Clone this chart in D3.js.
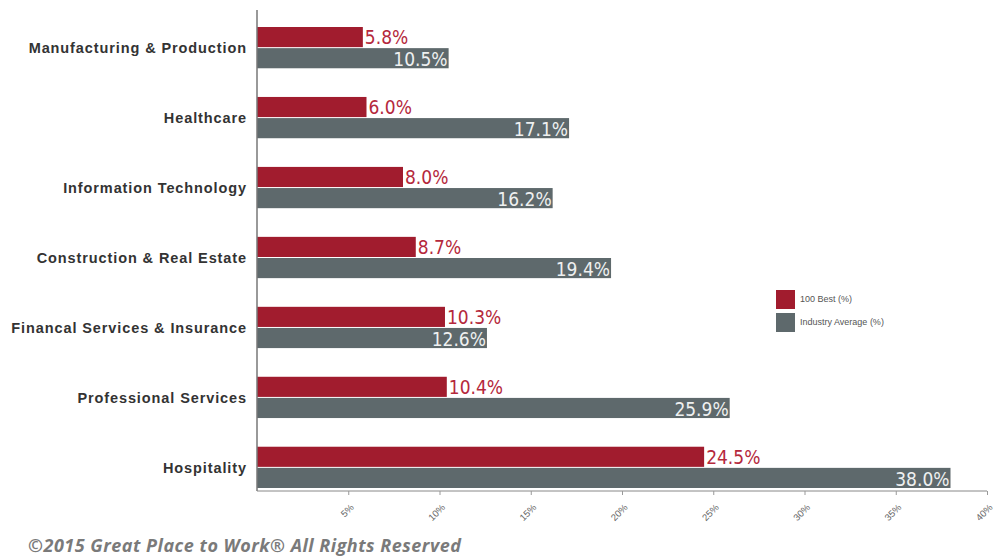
<!DOCTYPE html>
<html lang="en">
<head>
<meta charset="utf-8">
<script src="https://d3js.org/d3.v7.min.js"></script>
<style>
	body { margin: 0; background: #fff; }
	.cat { font: bold 14.5px "Liberation Sans", Arial, sans-serif; fill: #333; letter-spacing: 0.9px; }
	.val { font-family: "DejaVu Sans Condensed", "DejaVu Sans", sans-serif; font-stretch: condensed; font-size: 19px; }
	.tick text { font: 9.5px "Liberation Sans", sans-serif; fill: #666; }
	.legend text { font: 9px "Liberation Sans", sans-serif; fill: #555; }
	.foot { font: italic bold 18px "Open Sans", sans-serif; fill: #7a7a7a; letter-spacing: 0.5px; }
</style>
</head>
<body>
<script>
var width = 993, height = 556;

var categories = ["Manufacturing & Production", "Healthcare", "Information Technology",
	"Construction & Real Estate", "Financal Services & Insurance", "Professional Services", "Hospitality"];
var best100 = [5.8, 6.0, 8.0, 8.7, 10.3, 10.4, 24.5];
var industryAvg = [10.5, 17.1, 16.2, 19.4, 12.6, 25.9, 38.0];
var tickValues = [5, 10, 15, 20, 25, 30, 35, 40];
var legendText = ["100 Best (%)", "Industry Average (%)"];
var colors = ["#a11c2e", "#5e696c"];

var svg = d3.select("body").append("svg")
	.attr("width", width)
	.attr("height", height);

var x = d3.scaleLinear().domain([0, 40]).range([257, 987]);
var y = d3.scaleBand().domain(categories).range([27, 488]).paddingInner(0.41).paddingOuter(0);
var half = y.bandwidth() / 2;

// bars
var g = svg.selectAll("g.cat-group")
	.data(categories)
	.enter().append("g")
	.attr("transform", function(d) { return "translate(0," + y(d) + ")"; });

g.append("rect")
	.attr("x", x(0))
	.attr("y", 0)
	.attr("height", half - 0.5)
	.attr("width", function(d, i) { return x(best100[i]) - x(0); })
	.style("fill", colors[0]);

g.append("rect")
	.attr("x", x(0))
	.attr("y", half + 0.5)
	.attr("height", half - 0.5)
	.attr("width", function(d, i) { return x(industryAvg[i]) - x(0); })
	.style("fill", colors[1]);

g.append("text")
	.attr("class", "val")
	.attr("x", function(d, i) { return x(best100[i]) + 2; })
	.attr("y", half / 2)
	.attr("dy", "0.36em")
	.style("fill", "#b5283c")
	.text(function(d, i) { return best100[i].toFixed(1) + "%"; });

g.append("text")
	.attr("class", "val")
	.attr("x", function(d, i) { return x(industryAvg[i]) - 1; })
	.attr("y", half * 1.5 + 1)
	.attr("dy", "0.36em")
	.attr("text-anchor", "end")
	.style("fill", "#eef0f0")
	.text(function(d, i) { return industryAvg[i].toFixed(1) + "%"; });

g.append("text")
	.attr("class", "cat")
	.attr("x", 247)
	.attr("y", half)
	.attr("dy", "0.36em")
	.attr("text-anchor", "end")
	.text(function(d) { return d; });

// axes
svg.append("line")
	.attr("x1", x(0)).attr("x2", x(0))
	.attr("y1", 10).attr("y2", 491)
	.style("stroke", "#777").style("stroke-width", 1.5);

var xAxis = svg.append("g")
	.attr("transform", "translate(0,491)")
	.call(d3.axisBottom(x).tickValues(tickValues).tickSize(4).tickSizeOuter(0)
		.tickFormat(function(d) { return d + "%"; }));
xAxis.select(".domain").style("stroke", "#888").attr("d", "M" + x(0) + ",0H" + x(40));
xAxis.selectAll(".tick line").style("stroke", "#999");
xAxis.selectAll(".tick text")
	.attr("text-anchor", "end")
	.attr("transform", "translate(-2,8) rotate(-45)")
	.attr("dx", "-0.1em")
	.attr("dy", "0.5em");

// legend
var legend = svg.append("g").attr("class", "legend")
	.selectAll("g")
	.data(legendText)
	.enter().append("g")
	.attr("transform", function(d, i) { return "translate(776," + (290 + i * 23) + ")"; });

legend.append("rect")
	.attr("width", 19)
	.attr("height", 19)
	.style("fill", function(d, i) { return colors[i]; });

legend.append("text")
	.attr("x", 24)
	.attr("y", 9)
	.attr("dy", "0.35em")
	.text(function(d) { return d; });

svg.append("text")
	.attr("class", "foot")
	.attr("x", 28)
	.attr("y", 552)
	.text("\u00a92015 Great Place to Work\u00ae All Rights Reserved");
</script>
</body>
</html>
